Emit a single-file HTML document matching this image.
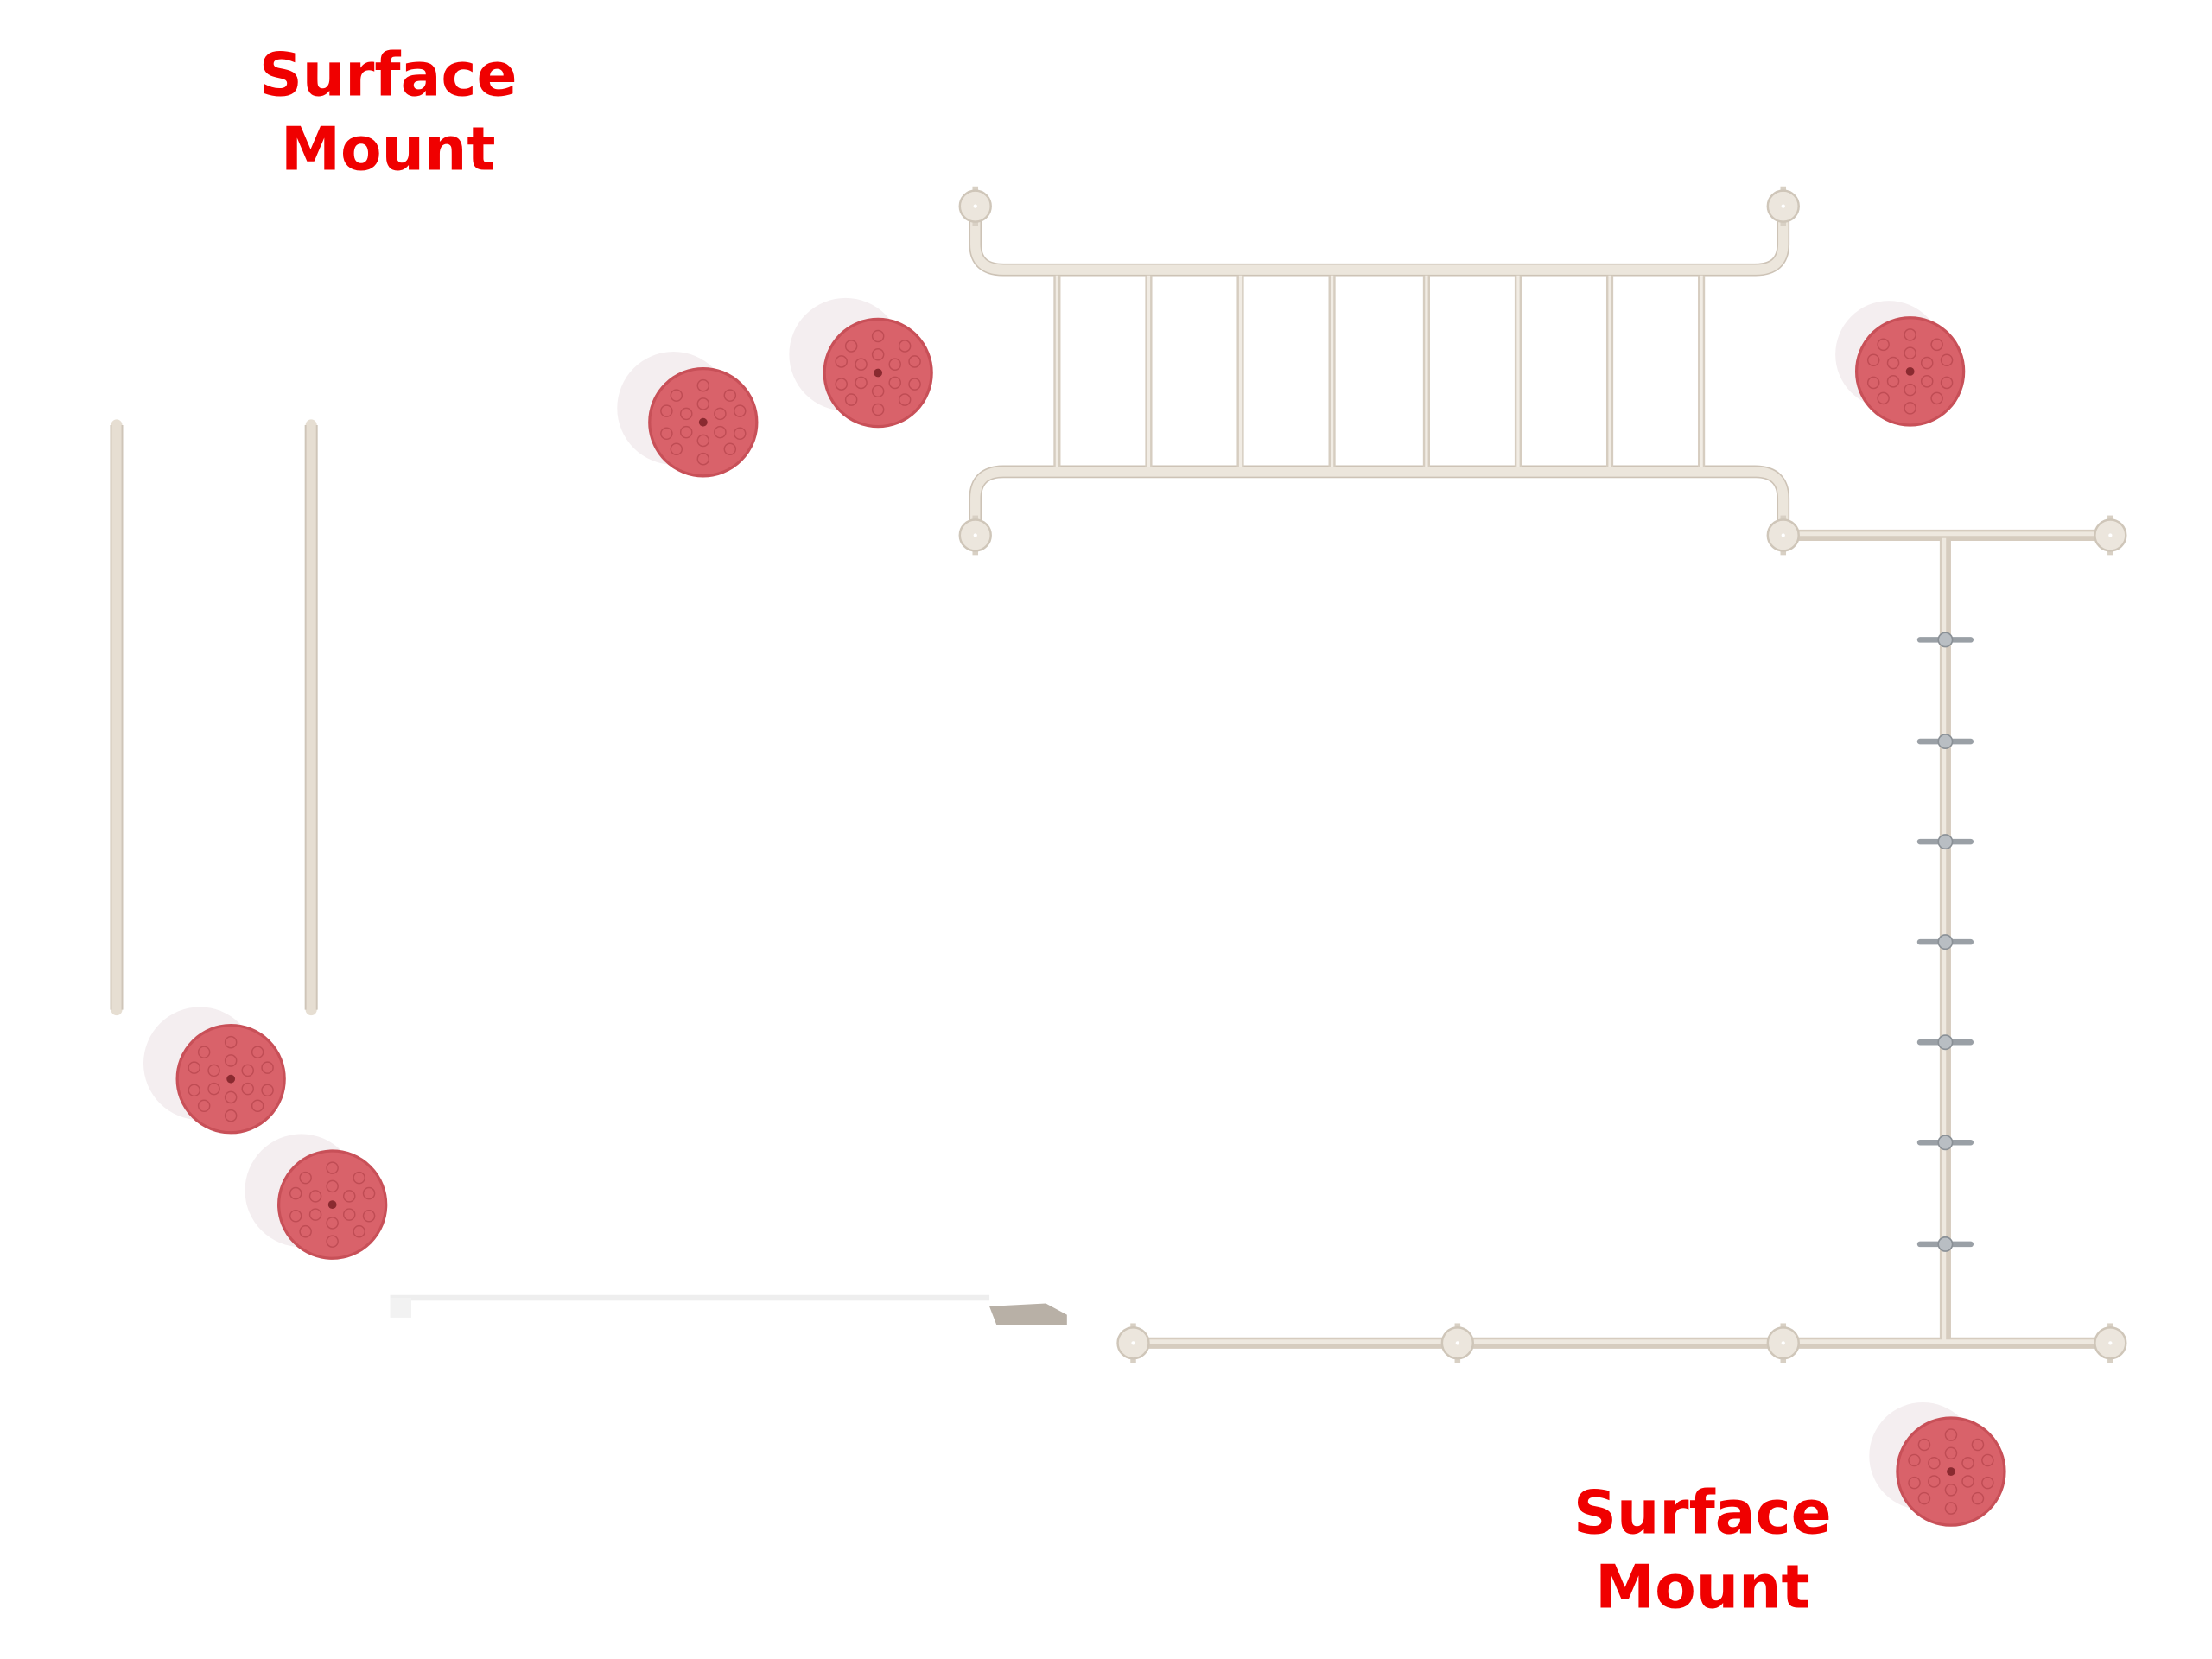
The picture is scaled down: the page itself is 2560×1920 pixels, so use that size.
<!DOCTYPE html>
<html><head><meta charset="utf-8"><style>
html,body{margin:0;padding:0;background:#fff;}
svg{display:block;}
</style></head><body>
<svg width="2560" height="1920" viewBox="0 0 1550 1163" preserveAspectRatio="none" xmlns="http://www.w3.org/2000/svg">
<defs>
<g id="disc">
<circle cx="0" cy="0" r="38" fill="#d9626a" stroke="#c85058" stroke-width="2"/>
<g fill="none" stroke="#b9474f" stroke-width="0.9" opacity="0.8">
<circle cx="0" cy="-26" r="4"/><circle cx="-19" cy="-19" r="4"/><circle cx="19" cy="-19" r="4"/>
<circle cx="-26" cy="-8" r="4"/><circle cx="26" cy="-8" r="4"/><circle cx="-26" cy="8" r="4"/><circle cx="26" cy="8" r="4"/>
<circle cx="-19" cy="19" r="4"/><circle cx="19" cy="19" r="4"/><circle cx="0" cy="26" r="4"/>
<circle cx="0" cy="-13" r="4"/><circle cx="-12" cy="-6" r="4"/><circle cx="12" cy="-6" r="4"/>
<circle cx="-12" cy="7" r="4"/><circle cx="12" cy="7" r="4"/><circle cx="0" cy="13" r="4"/>
</g>
<circle cx="0" cy="0" r="3" fill="#8a2a30"/>
</g>
<g id="post">
<rect x="-2" y="-14" width="4" height="28" fill="#d8d0c4"/>
<circle cx="0" cy="0" r="11" fill="#ece6dd" stroke="#cfc6b9" stroke-width="1.5"/>
<circle cx="0" cy="0" r="1.3" fill="#fff"/>
</g>
<g id="clamp">
<rect x="-20" y="-2" width="40" height="4" rx="2" fill="#9aa0a6"/>
<circle cx="0" cy="0" r="5" fill="#b9bec3" stroke="#8a9096" stroke-width="1"/>
</g>
</defs>
<rect width="1550" height="1163" fill="#fff"/>

<g transform="translate(1.7,1) scale(0.988,0.99)">
<!-- shadows -->
<g fill="#f4eef0">
<circle cx="476" cy="288" r="40"/><circle cx="598" cy="250" r="40"/><circle cx="1338" cy="250" r="38"/>
<circle cx="140" cy="752" r="40"/><circle cx="212" cy="842" r="40"/><circle cx="1362" cy="1030" r="38"/>
</g>
<path d="M700 924 L740 922 L755 930 L755 937 L705 937 Z" fill="#b8b0a6"/>
<rect x="275" y="916" width="425" height="4" fill="#eeeeee"/>
<rect x="275" y="918" width="15" height="14" fill="#f2f2f2"/>

<!-- left bars -->
<g fill="none" stroke="#e6ded2" stroke-width="8" stroke-linecap="round">
<path d="M81 300 V714"/><path d="M219 300 V714"/>
</g>
<g fill="none" stroke="#cfc5b8" stroke-width="1.2">
<path d="M77 300 V714 M85 300 V714 M215 300 V714 M223 300 V714"/>
</g>

<!-- railing -->
<g fill="none" stroke="#cdc3b6" stroke-width="9" stroke-linecap="round">
<path d="M690 150 V172 Q690 190 710 190 H1243 Q1263 190 1263 172 V150"/>
<path d="M690 372 V352 Q690 333 710 333 H1243 Q1263 333 1263 352 V372"/>
</g>
<g fill="none" stroke="#ece6dc" stroke-width="7" stroke-linecap="round">
<path d="M690 150 V172 Q690 190 710 190 H1243 Q1263 190 1263 172 V150"/>
<path d="M690 372 V352 Q690 333 710 333 H1243 Q1263 333 1263 352 V372"/>
</g>
<g stroke="#d6cdc0" stroke-width="5">
<path d="M748 194 V330 M813 194 V330 M878 194 V330 M943 194 V330 M1010 194 V330 M1075 194 V330 M1140 194 V330 M1205 194 V330"/>
</g>
<g stroke="#f1ece4" stroke-width="2">
<path d="M748 194 V330 M813 194 V330 M878 194 V330 M943 194 V330 M1010 194 V330 M1075 194 V330 M1140 194 V330 M1205 194 V330"/>
</g>

<!-- T rail -->
<g fill="none" stroke="#d6ccbf" stroke-width="8">
<path d="M1263 378 H1495"/><path d="M1378 378 V950"/><path d="M802 950 H1495"/>
</g>
<g fill="none" stroke="#eee8df" stroke-width="3">
<path d="M1263 377 H1495"/><path d="M1377 380 V948"/><path d="M802 949 H1495"/>
</g>
<g>
<use href="#clamp" x="1378" y="452"/><use href="#clamp" x="1378" y="524"/><use href="#clamp" x="1378" y="595"/>
<use href="#clamp" x="1378" y="666"/><use href="#clamp" x="1378" y="737"/><use href="#clamp" x="1378" y="808"/>
<use href="#clamp" x="1378" y="880"/>
</g>

<!-- posts -->
<use href="#post" x="690" y="145"/><use href="#post" x="1263" y="145"/>
<use href="#post" x="690" y="378"/><use href="#post" x="1263" y="378"/><use href="#post" x="1495" y="378"/>
<use href="#post" x="802" y="950"/><use href="#post" x="1032" y="950"/><use href="#post" x="1263" y="950"/><use href="#post" x="1495" y="950"/>

<!-- discs -->
<use href="#disc" x="497" y="298"/><use href="#disc" x="621" y="263"/><use href="#disc" x="1353" y="262"/>
<use href="#disc" x="162" y="763"/><use href="#disc" x="234" y="852"/><use href="#disc" x="1382" y="1041"/>
</g>

<!-- labels -->
<g font-family="'DejaVu Sans','Liberation Sans',sans-serif" font-weight="bold" font-size="42" fill="#f00000" text-anchor="middle">
<text x="272" y="67">Surface</text>
<text x="272" y="119">Mount</text>
<text x="1193" y="1075">Surface</text>
<text x="1193" y="1127">Mount</text>
</g>
</svg>
</body></html>
